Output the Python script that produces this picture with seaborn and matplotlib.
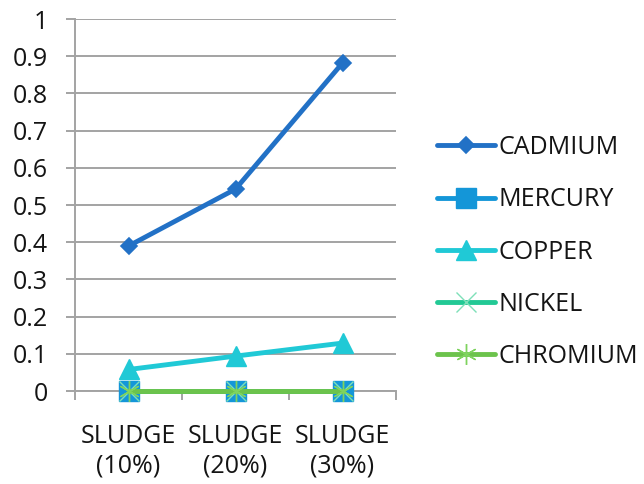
import matplotlib
matplotlib.use("Agg")
import matplotlib.pyplot as plt
import seaborn as sns
import pandas as pd

categories = ["SLUDGE\n(10%)", "SLUDGE\n(20%)", "SLUDGE\n(30%)"]
metals = ["CADMIUM", "MERCURY", "COPPER", "NICKEL", "CHROMIUM"]
cadmium = [0.39, 0.543, 0.882]
mercury = [0.0, 0.0, 0.0]
copper = [0.058, 0.094, 0.129]
nickel = [0.0, 0.0, 0.0]
chromium = [0.0, 0.0, 0.0]
y_ticks = [0, 0.1, 0.2, 0.3, 0.4, 0.5, 0.6, 0.7, 0.8, 0.9, 1]
y_tick_labels = ["0", "0.1", "0.2", "0.3", "0.4", "0.5", "0.6", "0.7", "0.8", "0.9", "1"]

series = [cadmium, mercury, copper, nickel, chromium]
df = pd.DataFrame({
    "category": [c for _ in metals for c in categories],
    "metal": [m for m in metals for _ in categories],
    "value": [v for s in series for v in s],
})

palette = {"CADMIUM": "#2271C6", "MERCURY": "#1496D8", "COPPER": "#20C9D6",
           "NICKEL": "#22C995", "CHROMIUM": "#6CC34C"}
marker_map = {"CADMIUM": "D", "MERCURY": "s", "COPPER": "^", "NICKEL": "x",
              "CHROMIUM": (6, 2, 0)}
marker_size = {"CADMIUM": 8.5, "MERCURY": 14.5, "COPPER": 15, "NICKEL": 15, "CHROMIUM": 15}
marker_edge = {"CADMIUM": "#2271C6", "MERCURY": "#1496D8", "COPPER": "#20C9D6",
               "NICKEL": "#7EE0B8", "CHROMIUM": "#7ED35E"}
marker_edge_width = {"CADMIUM": 1.2, "MERCURY": 1.0, "COPPER": 1.0, "NICKEL": 1.0, "CHROMIUM": 1.0}

sns.set_style("white")
plt.rcParams["font.family"] = ["Open Sans", "DejaVu Sans"]
text_color = "#141414"

fig = plt.figure(figsize=(6.44, 4.84), dpi=100)
ax = fig.add_axes([0.1165, 0.192, 0.4985, 0.7687])

for m in metals:
    sub = df[df["metal"] == m]
    sns.lineplot(data=sub, x="category", y="value", color=palette[m], label=m,
                 marker=marker_map[m], markersize=marker_size[m],
                 markerfacecolor=palette[m], markeredgecolor=marker_edge[m],
                 markeredgewidth=marker_edge_width[m], linewidth=3.5,
                 sort=False, clip_on=False, zorder=3, ax=ax)

handles, labels = ax.get_legend_handles_labels()
ax.get_legend().remove()
fig.legend(handles, labels, loc="center left", bbox_to_anchor=(0.678, 0.479),
           frameon=False, fontsize=18, handlelength=2.35, handletextpad=0.12,
           labelspacing=1.09, borderpad=0, borderaxespad=0, labelcolor=text_color)

ax.set_ylim(0, 1)
ax.set_xlim(-0.5, 2.5)
ax.set_yticks(y_ticks)
ax.set_yticklabels(y_tick_labels)
ax.yaxis.grid(True, color="#A3A3A3", linewidth=1.4)
ax.set_axisbelow(True)
ax.set_xlabel("")
ax.set_ylabel("")

for side in ("top", "right"):
    ax.spines[side].set_visible(False)
for side in ("left", "bottom"):
    ax.spines[side].set_color("#A3A3A3")
    ax.spines[side].set_linewidth(1.4)
    ax.spines[side].set_zorder(1)

ax.tick_params(axis="y", which="major", length=6.5, width=1.4, color="#A3A3A3",
               labelsize=18, labelcolor=text_color, pad=13, direction="out", left=True)
ax.tick_params(axis="x", which="major", length=0, labelsize=18,
               labelcolor=text_color, pad=24)
ax.set_xticks([-0.5, 0.5, 1.5, 2.5], minor=True)
ax.tick_params(axis="x", which="minor", length=6.5, width=1.4, color="#A3A3A3",
               direction="out", bottom=True)

fig.savefig("out.png", dpi=100)
